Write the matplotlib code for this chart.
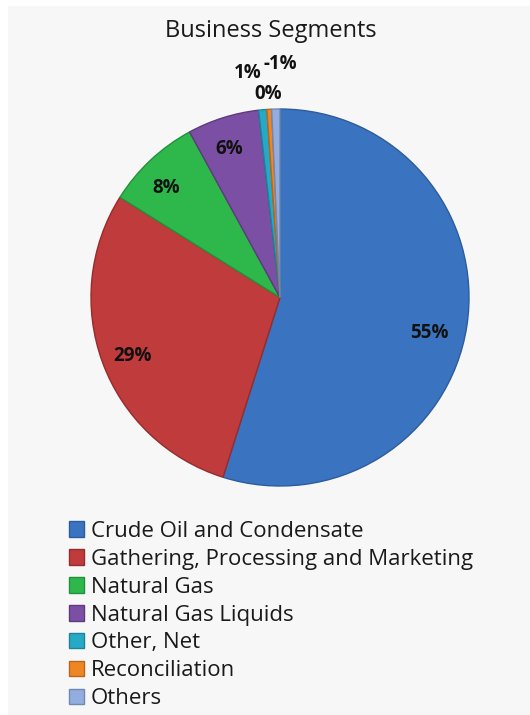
import numpy as np
import matplotlib
matplotlib.use("Agg")
import matplotlib.pyplot as plt

# segment shares in percent (Others is negative, drawn by magnitude)
segments = ["Crude Oil and Condensate", "Gathering, Processing and Marketing",
            "Natural Gas", "Natural Gas Liquids", "Other, Net",
            "Reconciliation", "Others"]
shares = [54.6, 28.9, 8.1, 6.1, 0.7, 0.4, -0.7]
colors = ["#3a73c0", "#c03b3b", "#2eb84c", "#7b4fa3", "#25a9c6", "#ee8623", "#93aede"]
edges = ["#2d5c9c", "#962c2c", "#23903b", "#5d3b7d", "#1b849a", "#b9661a", "#6f88b4"]

# where each percentage sits, in pie units
label_pos = [(0.79, -0.19), (-0.78, -0.31), (-0.60, 0.58), (-0.27, 0.79),
             (-0.17, 1.19), (-0.06, 1.08), (0.0, 1.24)]

plt.rcParams['font.family'] = ['Open Sans', 'DejaVu Sans']

fig = plt.figure(figsize=(5.3, 7.15), dpi=100)
fig.patch.set_facecolor("white")
bg = fig.add_axes([8/530, 0, 522/530, 709/715])
bg.set_facecolor("#f7f7f7")
bg.set_xticks([])
bg.set_yticks([])
for s in bg.spines.values():
    s.set_visible(False)

fig.text(271/530, 1 - 31/715, "Business Segments", ha="center", va="center",
         fontsize=17, color="#1a1a1a")

ax = fig.add_axes([91/530, 1 - 486/715, 378/530, 377/715])
sizes = np.abs(shares)
wedges, texts, pcts = ax.pie(sizes, colors=colors, startangle=90, counterclock=False,
                             autopct="%d%%", pctdistance=0.83,
                             wedgeprops=dict(linewidth=1.0),
                             textprops=dict(fontsize=13.5, fontweight="bold", color="#111111"))
for w, ec in zip(wedges, edges):
    w.set_edgecolor(ec)
for t, v, p in zip(pcts, shares, label_pos):
    t.set_text("%d%%" % round(v))
    t.set_position(p)
ax.set_aspect("auto")
ax.set_xlim(-1, 1)
ax.set_ylim(-1, 1)
ax.axis("off")

leg = fig.legend(wedges, segments, loc="upper left",
                 bbox_to_anchor=(60/530, 1 - 512/715), frameon=False,
                 fontsize=16, handlelength=0.7, handleheight=0.7,
                 handletextpad=0.3, labelspacing=0.31, borderaxespad=0)
for t in leg.get_texts():
    t.set_color("#1a1a1a")

fig.savefig("out.png", dpi=100, facecolor=fig.get_facecolor())
